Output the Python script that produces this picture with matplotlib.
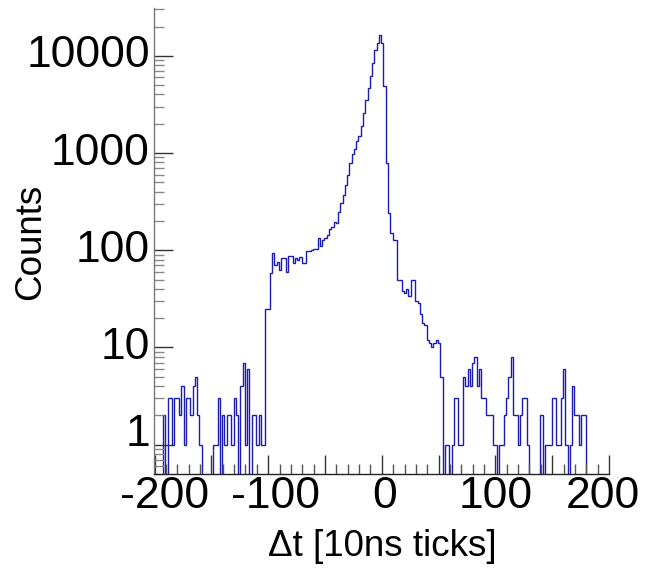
import numpy as np
import matplotlib
matplotlib.use("Agg")
import matplotlib.pyplot as plt
from matplotlib.ticker import FixedLocator, NullFormatter
from matplotlib.transforms import blended_transform_factory, ScaledTranslation

plt.rcParams['font.family'] = ['Liberation Sans', 'DejaVu Sans']

# ---- data ----
bin_low = -200.5
bin_width = 2.0
counts = [
    0, 0, 0, 0, 2, 0, 3, 3, 1, 3,
    3, 2, 4, 1, 3, 3, 2, 4, 5, 2,
    1, 0, 0, 0, 0, 0, 1, 1, 3, 0,
    2, 1, 2, 2, 1, 3, 2, 0, 4, 7,
    1, 6, 0, 2, 2, 1, 2, 1, 1, 25,
    25, 58, 94, 71, 75, 62, 83, 83, 60, 87,
    87, 74, 84, 80, 86, 74, 74, 99, 99, 100,
    103, 103, 133, 111, 127, 134, 144, 166, 175, 197,
    190, 250, 305, 366, 471, 590, 789, 980, 1090, 1320,
    1490, 1880, 2580, 3540, 4670, 6170, 8450, 11600, 13400, 16300,
    13400, 4860, 789, 241, 150, 126, 126, 49, 49, 38,
    36, 40, 34, 50, 50, 30, 29, 22, 18, 17,
    12, 11, 10, 11, 12, 11, 5, 0, 1, 1,
    0, 1, 3, 3, 1, 1, 5, 4, 6, 4,
    7, 8, 4, 6, 3, 3, 2, 2, 2, 1,
    1, 0, 1, 1, 2, 3, 5, 8, 2, 2,
    1, 2, 3, 3, 1, 0, 0, 0, 0, 0,
    2, 0, 1, 1, 1, 3, 3, 1, 1, 3,
    6, 1, 0, 1, 4, 2, 2, 1, 2, 2,
    0, 0, 0, 0, 0, 0, 0, 0, 0, 0,
]
x_ticks = [-200, -100, 0, 100, 200]
y_ticks = [1, 10, 100, 1000, 10000]
x_label = "\u0394t [10ns ticks]"
y_label = "Counts"

counts = np.array(counts, dtype=float)
edges = bin_low + bin_width * np.arange(len(counts) + 1)

W, H = 649, 568
fig = plt.figure(figsize=(W/100, H/100), dpi=100)
ax = fig.add_axes([154/W, 1-474/H, (609-154)/W, (474-8)/H])

ymin, ymax = 0.5, 31000
xmin, xmax = -200.5, 200.0
plot_vals = np.where(counts > 0, counts, ymin * 1e-3)
ax.stairs(plot_vals, edges, color='#1c1cb0', linewidth=1.0, baseline=None)

ax.set_yscale('log')
ax.set_xlim(xmin, xmax)
ax.set_ylim(ymin, ymax)

for s in ['top', 'right']:
    ax.spines[s].set_visible(False)
ax.spines['left'].set_color('#777777')
ax.spines['bottom'].set_color('#222222')
ax.spines['left'].set_linewidth(1.0)
ax.spines['bottom'].set_linewidth(1.0)

ax.xaxis.set_major_locator(FixedLocator(np.arange(-200, 201, 50)))
ax.xaxis.set_minor_locator(FixedLocator(np.arange(-200, 201, 10)))
ax.xaxis.set_major_formatter(NullFormatter())
ax.yaxis.set_major_locator(FixedLocator(y_ticks))
minors = [m * 10**e for e in range(-1, 5) for m in range(2, 10)]
ax.yaxis.set_minor_locator(FixedLocator(minors))
ax.yaxis.set_minor_formatter(NullFormatter())
ax.yaxis.set_major_formatter(NullFormatter())

ax.tick_params(axis='both', which='major', direction='in', colors='#333333', width=1)
ax.tick_params(axis='y', which='major', length=14)
ax.tick_params(axis='y', which='minor', direction='in', length=7, color='#888888', width=1)
ax.tick_params(axis='x', which='major', length=14)
ax.tick_params(axis='x', which='minor', direction='in', length=7, color='#555555', width=1)

tick_fs = 32
# x tick labels (placed slightly inward, as in the reference rendering)
label_shift = [10, 7, 3, 0, -6]  # pixels
px_per_unit = (609 - 154) / (xmax - xmin)
trans_x = blended_transform_factory(ax.transData, fig.transFigure)
for t, sh in zip(x_ticks, label_shift):
    ax.text(t + sh / px_per_unit, 1 - 497/H, str(t), transform=trans_x,
            ha='center', va='center', fontsize=tick_fs)

# y tick labels; the lowest one sits a little above its tick, as in the reference
trans_y = blended_transform_factory(fig.transFigure, ax.transData)
for t in y_ticks:
    dy = 10 / 100 if t == 1 else 0
    ax.text(150/W, t, str(t), ha='right', va='center', fontsize=tick_fs,
            transform=trans_y + ScaledTranslation(0, dy, fig.dpi_scale_trans))

fig.text(382/W, 1 - 546/H, x_label, ha='center', va='center', fontsize=26.5)
fig.text(31/W, 1 - 242/H, y_label, ha='center', va='center', fontsize=26.5, rotation=90)

fig.savefig('out.png', dpi=100)
